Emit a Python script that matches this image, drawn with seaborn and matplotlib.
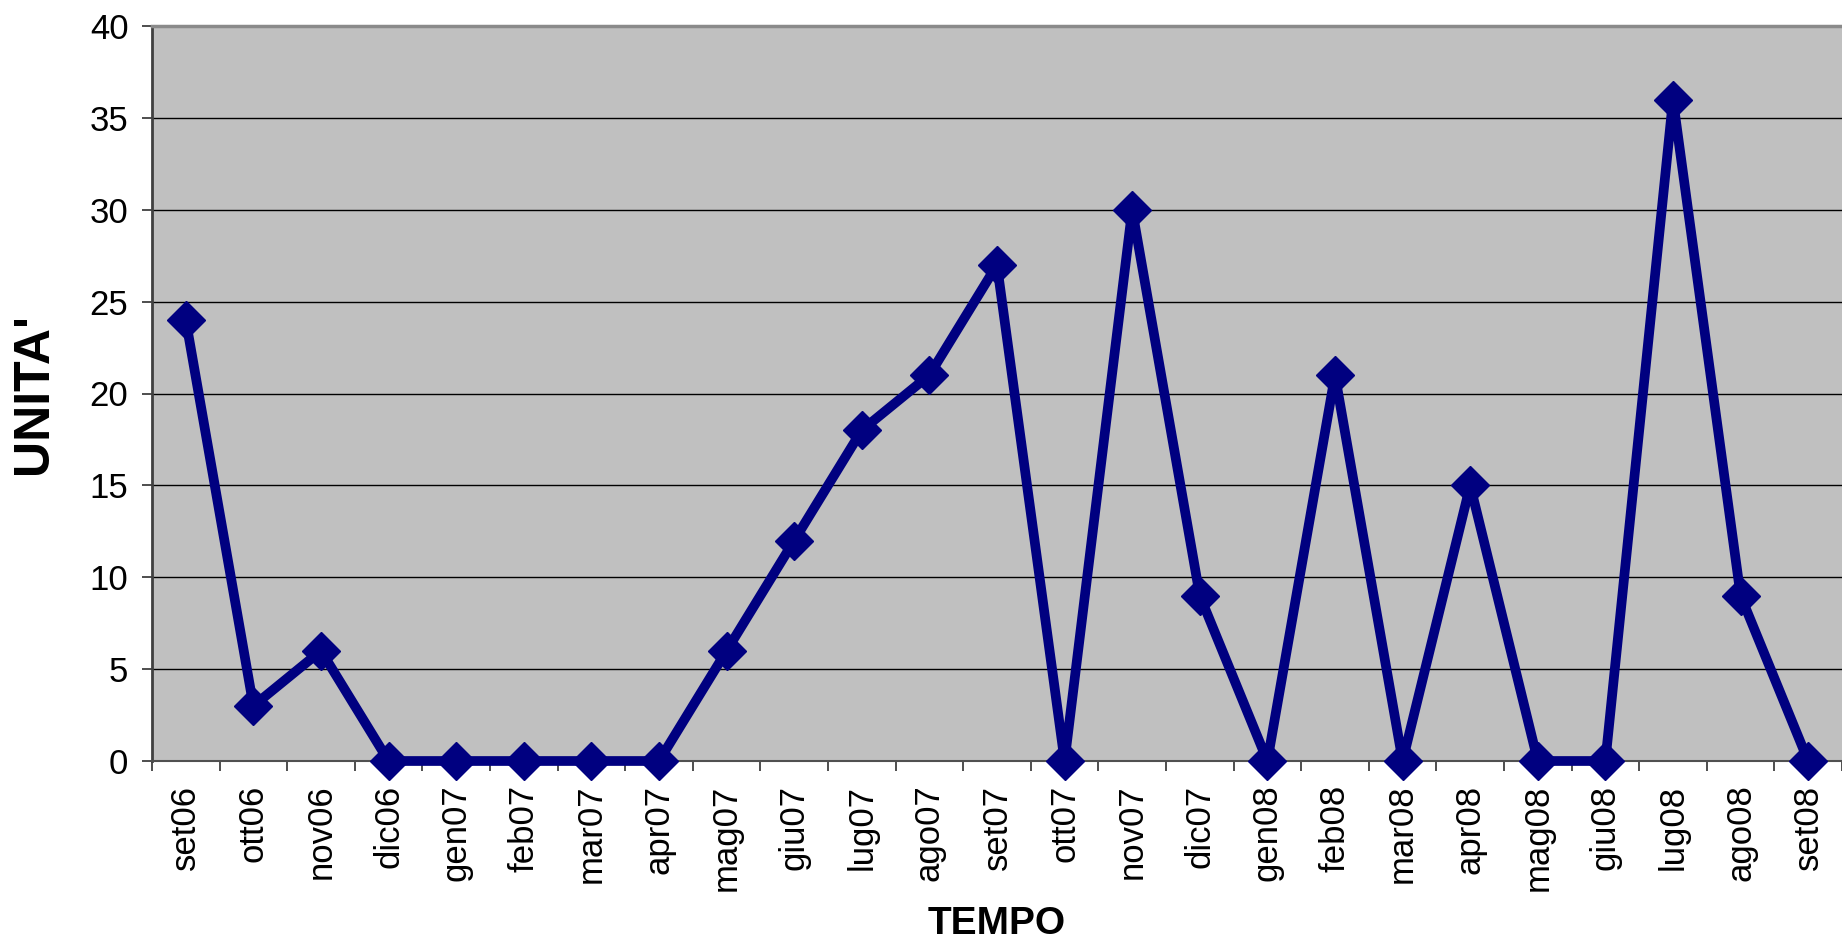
import matplotlib
matplotlib.use("Agg")
import matplotlib.pyplot as plt
import seaborn as sns
import pandas as pd
import numpy as np

# data
mesi = ["set06", "ott06", "nov06", "dic06", "gen07", "feb07", "mar07", "apr07",
        "mag07", "giu07", "lug07", "ago07", "set07", "ott07", "nov07", "dic07",
        "gen08", "feb08", "mar08", "apr08", "mag08", "giu08", "lug08", "ago08", "set08"]
unita = [24, 3, 6, 0, 0, 0, 0, 0, 6, 12, 18, 21, 27, 0, 30, 9, 0, 21, 0, 15, 0, 0, 36, 9, 0]
yTicks = [0, 5, 10, 15, 20, 25, 30, 35, 40]

df = pd.DataFrame({"mese": mesi, "unita": unita})

sns.set_theme(style="white")
plt.rcParams["font.family"] = ["Liberation Sans", "DejaVu Sans"]
plt.rcParams["text.color"] = "black"
plt.rcParams["axes.labelcolor"] = "black"
plt.rcParams["xtick.color"] = "black"
plt.rcParams["ytick.color"] = "black"

fig = plt.figure(figsize=(18.42, 9.44), dpi=100)
ax = fig.add_axes([152 / 1842, 1 - 761 / 944, 1 - 152 / 1842, (761 - 26) / 944])
ax.set_facecolor("#C0C0C0")

sns.lineplot(data=df, x="mese", y="unita", sort=False, ax=ax,
             color="#000080", linewidth=7, marker="D", markersize=19,
             markeredgecolor="#000080", markeredgewidth=1, zorder=3, clip_on=False)

ax.set_xlim(-0.5, len(mesi) - 0.5)
ax.set_ylim(0, 40)
ax.set_yticks(yTicks)
ax.set_yticklabels([str(v) for v in yTicks], fontsize=25)
ax.set_xticks(range(len(mesi)))
ax.set_xticklabels(mesi, rotation=90, fontsize=25)
ax.set_xticks(np.arange(-0.5, len(mesi), 1), minor=True)

ax.tick_params(axis="x", which="major", length=0, pad=17, labelcolor="black")
ax.tick_params(axis="x", which="minor", length=7, width=1.2, color="#303030", direction="out", bottom=True)
ax.tick_params(axis="y", which="major", length=7, width=1.2, color="#303030", direction="out", left=True, pad=10,
               labelcolor="black")

ax.grid(axis="y", color="black", linewidth=1.0, zorder=1)
ax.grid(axis="x", visible=False)
ax.set_axisbelow(True)

ax.spines["left"].set_color("#404040")
ax.spines["left"].set_linewidth(2)
ax.spines["bottom"].set_color("#505050")
ax.spines["bottom"].set_linewidth(1.5)
ax.spines["top"].set_color("#8a8a8a")
ax.spines["top"].set_linewidth(2.5)
ax.spines["right"].set_visible(False)

ax.set_xlabel("TEMPO", fontsize=28, fontweight="bold", va="center", color="black")
ax.xaxis.set_label_coords(0.5, -0.222)
ax.set_ylabel("UNITA'", fontsize=36, fontweight="bold", va="center", ha="center", color="black")
ax.yaxis.set_label_coords(-0.0698, 0.5)

fig.savefig("out.png", dpi=100)
